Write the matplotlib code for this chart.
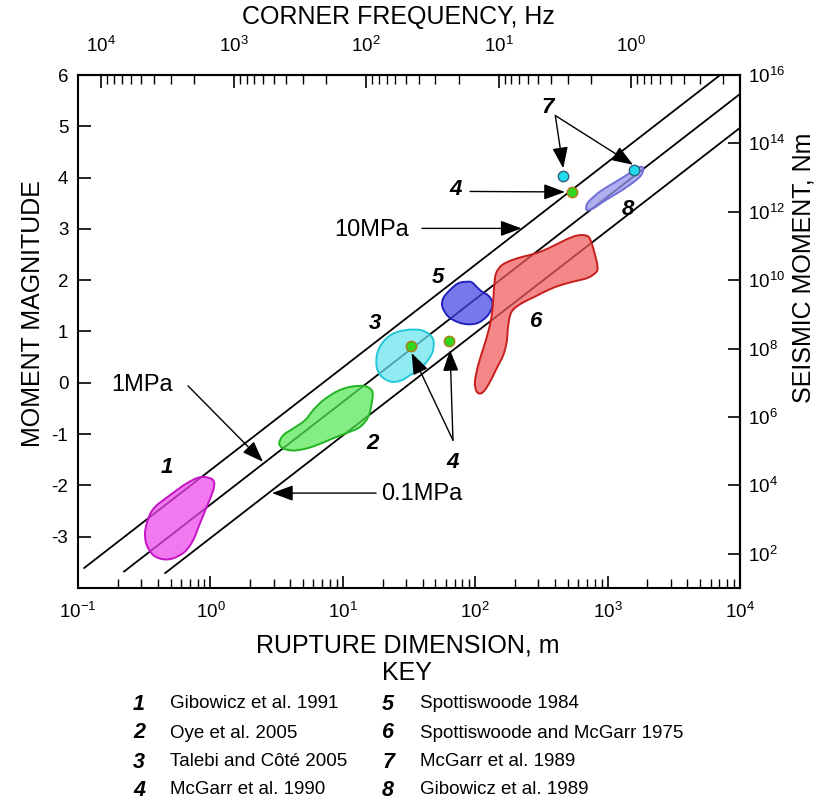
import numpy as np
import matplotlib
matplotlib.use('Agg')
import matplotlib.pyplot as plt
from matplotlib.path import Path
from matplotlib.patches import PathPatch
from matplotlib.ticker import LogLocator, NullFormatter, FuncFormatter, FixedLocator
from matplotlib.colors import to_rgba

plt.rcParams['font.family'] = ['Liberation Sans', 'DejaVu Sans']
plt.rcParams['mathtext.fontset'] = 'custom'
plt.rcParams['mathtext.rm'] = 'Liberation Sans'
plt.rcParams['mathtext.it'] = 'Liberation Sans:italic'
plt.rcParams['mathtext.bf'] = 'Liberation Sans:bold'
plt.rcParams['axes.unicode_minus'] = False

# ---------------- data ----------------
# constant stress-drop lines (end points)
line_labels = ['10MPa', '1MPa', '0.1MPa']
line_r_start = [0.11, 0.22, 0.45]
line_mw_start = [-3.62, -3.69, -3.72]
line_r_end = [7080.0, 10000.0, 10000.0]
line_mw_end = [6.0, 5.63, 4.97]

# source regions: outline vertices (log10 rupture dimension, moment magnitude)
r1_logr = [-0.003, -0.079, -0.179, -0.305, -0.418, -0.469, -0.494, -0.481, -0.431,
           -0.356, -0.280, -0.192, -0.129, -0.079, -0.028, 0.022, 0.027]
r1_mw = [-1.86, -1.84, -1.96, -2.19, -2.42, -2.64, -2.93, -3.16, -3.36,
         -3.44, -3.42, -3.29, -3.06, -2.74, -2.42, -2.09, -1.93]

r2_logr = [1.205, 1.155, 1.054, 0.954, 0.853, 0.777, 0.715, 0.626, 0.551, 0.520,
           0.551, 0.626, 0.727, 0.828, 0.928, 1.029, 1.130, 1.193, 1.218, 1.226]
r2_mw = [-0.11, -0.06, -0.08, -0.17, -0.34, -0.53, -0.73, -0.89, -1.02, -1.18,
         -1.28, -1.32, -1.28, -1.19, -1.08, -0.98, -0.86, -0.66, -0.40, -0.20]

r3_logr = [1.483, 1.381, 1.306, 1.261, 1.256, 1.294, 1.369, 1.445, 1.508, 1.570,
           1.634, 1.679, 1.684, 1.646, 1.583]
r3_mw = [1.03, 0.96, 0.80, 0.58, 0.31, 0.12, 0.02, 0.05, 0.15, 0.25,
         0.41, 0.61, 0.83, 0.96, 1.03]

r5_logr = [1.936, 1.872, 1.810, 1.759, 1.752, 1.797, 1.872, 1.948, 2.023, 2.087,
           2.125, 2.129, 2.099, 2.049, 2.011, 1.974]
r5_mw = [1.97, 1.94, 1.81, 1.65, 1.48, 1.29, 1.18, 1.14, 1.17, 1.29,
         1.45, 1.58, 1.70, 1.78, 1.87, 1.96]

r6_logr = [2.804, 2.741, 2.653, 2.552, 2.452, 2.363, 2.276, 2.200, 2.157, 2.144,
           2.137, 2.125, 2.099, 2.061, 2.023, 1.998, 2.011, 2.049, 2.099, 2.162,
           2.212, 2.238, 2.250, 2.276, 2.351, 2.452, 2.552, 2.653, 2.754, 2.854,
           2.918, 2.922, 2.905, 2.880, 2.854]
r6_mw = [2.88, 2.85, 2.75, 2.62, 2.52, 2.46, 2.39, 2.29, 2.13, 1.90,
         1.65, 1.32, 1.00, 0.67, 0.35, 0.02, -0.17, -0.20, -0.04, 0.28,
         0.54, 0.80, 1.13, 1.39, 1.55, 1.68, 1.81, 1.91, 1.98, 2.05,
         2.17, 2.30, 2.49, 2.72, 2.85]

r8_logr = [2.867, 2.943, 3.043, 3.144, 3.220, 3.258, 3.270, 3.245, 3.169, 3.069,
           2.967, 2.892, 2.842, 2.842]
r8_mw = [3.56, 3.73, 3.89, 4.05, 4.18, 4.21, 4.15, 4.02, 3.86, 3.69,
         3.53, 3.40, 3.37, 3.47]

# individual events
mcgarr1990_r = [32.7, 63.4, 541.0]
mcgarr1990_mw = [0.72, 0.81, 3.71]
mcgarr1989_r = [463.0, 1592.0]
mcgarr1989_mw = [4.03, 4.15]

# axes
x_limits = [0.1, 1e4]
mw_limits = [-4, 6]
mw_ticks = [-3, -2, -1, 0, 1, 2, 3, 4, 5, 6]
corner_freq_ticks = [1e4, 1e3, 1e2, 1e1, 1e0]
moment_tick_exponents = [2, 4, 6, 8, 10, 12, 14, 16]
corner_freq_const = 1500.0   # f * r

key_numbers = ['1', '2', '3', '4', '5', '6', '7', '8']
key_texts = ['Gibowicz et al. 1991', 'Oye et al. 2005', 'Talebi and Côté 2005',
             'McGarr et al. 1990', 'Spottiswoode 1984',
             'Spottiswoode and McGarr 1975', 'McGarr et al. 1989',
             'Gibowicz et al. 1989']

# ---------------- figure ----------------
W, H = 817, 802
fig = plt.figure(figsize=(W / 100, H / 100), dpi=100)
ax = fig.add_axes([78 / W, 1 - 588 / H, (740 - 78) / W, (588 - 75) / H])


def fx(x):
    return x / W


def fy(y):
    return 1 - y / H


def pow_label(v, p):
    e = int(round(np.log10(v)))
    return r'$\mathregular{10^{%d}}$' % e


ax.set_xscale('log')
ax.set_xlim(*x_limits)
ax.set_ylim(*mw_limits)
for s in ax.spines.values():
    s.set_linewidth(1.5)

ax.xaxis.set_major_locator(LogLocator(base=10, numticks=20))
ax.xaxis.set_major_formatter(FuncFormatter(pow_label))
ax.xaxis.set_minor_locator(LogLocator(base=10, subs=np.arange(2, 10), numticks=20))
ax.xaxis.set_minor_formatter(NullFormatter())
ax.set_yticks(mw_ticks)
ax.tick_params(which='major', direction='in', length=9, width=1.2, labelsize=13.5)
ax.tick_params(which='minor', direction='in', length=6.5, width=1.0)
ax.tick_params(axis='x', which='major', pad=10)
ax.tick_params(axis='y', which='major', pad=7)


def r_to_f(r):
    r = np.asarray(r, dtype=float)
    with np.errstate(divide='ignore', invalid='ignore'):
        return corner_freq_const / r


top = ax.secondary_xaxis('top', functions=(r_to_f, r_to_f))
top.xaxis.set_major_locator(FixedLocator(corner_freq_ticks))
top.xaxis.set_major_formatter(FuncFormatter(pow_label))
top.xaxis.set_minor_locator(LogLocator(base=10, subs=np.arange(2, 10), numticks=20))
top.xaxis.set_minor_formatter(NullFormatter())
top.tick_params(which='major', direction='in', length=9, width=1.2, labelsize=13.5, pad=14)
top.tick_params(which='minor', direction='in', length=6.5, width=1.0)
top.spines['top'].set_linewidth(1.5)


def mw_to_logm(m):
    return 1.5 * np.asarray(m, dtype=float) + 7.0


def logm_to_mw(l):
    return (np.asarray(l, dtype=float) - 7.0) / 1.5


right = ax.secondary_yaxis('right', functions=(mw_to_logm, logm_to_mw))
right.yaxis.set_major_locator(FixedLocator(moment_tick_exponents))
right.yaxis.set_major_formatter(FuncFormatter(lambda v, p: r'$\mathregular{10^{%d}}$' % int(round(v))))
right.tick_params(which='major', direction='in', length=9, width=1.2, labelsize=13.5, pad=6)
right.spines['right'].set_linewidth(1.5)

# stress-drop lines
for i in range(len(line_labels)):
    ax.plot([line_r_start[i], line_r_end[i]], [line_mw_start[i], line_mw_end[i]],
            color='black', lw=1.3, zorder=2, solid_capstyle='butt')


def smooth_region(logr, mw, face, edge, alpha=0.72):
    P = np.column_stack([logr, mw]).astype(float)
    n = len(P)
    verts = [P[0]]
    codes = [Path.MOVETO]
    for i in range(n):
        p0, p1, p2, p3 = P[i - 1], P[i], P[(i + 1) % n], P[(i + 2) % n]
        c1 = p1 + (p2 - p0) / 6.0
        c2 = p2 - (p3 - p1) / 6.0
        verts += [c1, c2, p2]
        codes += [Path.CURVE4] * 3
    verts.append(P[0])
    codes.append(Path.CLOSEPOLY)
    V = np.array(verts)
    V[:, 0] = 10 ** V[:, 0]
    patch = PathPatch(Path(V, codes), facecolor=to_rgba(face, alpha), edgecolor=edge,
                      lw=1.4, zorder=3)
    ax.add_patch(patch)


smooth_region(r1_logr, r1_mw, '#ee44ee', '#c414c4')
smooth_region(r2_logr, r2_mw, '#55e655', '#22b422')
smooth_region(r3_logr, r3_mw, '#66e4ee', '#22c8d8')
smooth_region(r5_logr, r5_mw, '#4444e6', '#2222bb')
smooth_region(r6_logr, r6_mw, '#f05a5a', '#c81e1e')
smooth_region(r8_logr, r8_mw, '#9494ec', '#7070d8', alpha=0.75)

# individual events
ax.plot(mcgarr1990_r, mcgarr1990_mw, 'o', ms=7.5, mfc='#33d61e', mec='#b07818', mew=1.0, zorder=5)
ax.plot(mcgarr1989_r, mcgarr1989_mw, 'o', ms=7.5, mfc='#22dcee', mec='#306080', mew=1.0, zorder=5)

# annotations
arrow = dict(arrowstyle='-|>,head_length=0.65,head_width=0.24', color='black', lw=1.0,
             shrinkA=0, shrinkB=0, mutation_scale=20)


def L(lr):
    return 10 ** lr


def ann(start, tip):
    ax.annotate('', xy=(L(tip[0]), tip[1]), xytext=(L(start[0]), start[1]),
                arrowprops=arrow, zorder=6)


num_style = dict(fontsize=16, fontweight='bold', fontstyle='italic', ha='center',
                 va='center', zorder=7)
lab_style = dict(fontsize=17, ha='center', va='center', zorder=7)

ax.text(L(2.550), 5.36, '7', **num_style)
ann((2.605, 5.21), (2.665, 4.18))
ann((2.605, 5.21), (3.192, 4.25))

ax.text(L(1.855), 3.76, '4', **num_style)
ann((1.961, 3.73), (2.678, 3.72))

ax.text(L(1.221), 2.98, '10MPa', **lab_style)
ann((1.598, 3.01), (2.351, 3.01))

ax.text(L(3.154), 3.37, '8', **num_style)
ax.text(L(1.719), 2.06, '5', **num_style)
ax.text(L(2.459), 1.20, '6', **num_style)
ax.text(L(1.243), 1.15, '3', **num_style)

ax.text(L(-0.517), -0.04, '1MPa', **lab_style)
ann((-0.169, -0.06), (0.397, -1.54))

ax.text(L(1.221), -1.19, '2', **num_style)
ax.text(L(-0.328), -1.66, '1', **num_style)

ax.text(L(1.598), -2.17, '0.1MPa', **lab_style)
ann((1.251, -2.15), (0.465, -2.15))

ax.text(L(1.832), -1.56, '4', **num_style)
ann((1.832, -1.12), (1.520, 0.58))
ann((1.832, -1.12), (1.810, 0.64))

# axis titles
fig.text(fx(398), fy(17), 'CORNER FREQUENCY, Hz', fontsize=18, ha='center', va='center')
fig.text(fx(408), fy(645), 'RUPTURE DIMENSION, m', fontsize=18, ha='center', va='center')
fig.text(fx(33), fy(314), 'MOMENT MAGNITUDE', fontsize=18, ha='center', va='center', rotation=90)
fig.text(fx(803), fy(268), 'SEISMIC MOMENT, Nm', fontsize=18, ha='center', va='center', rotation=90)

# key
fig.text(fx(407), fy(673), 'KEY', fontsize=18, ha='center', va='center')
row_y = [704, 733, 762, 790]
for i in range(8):
    col = i // 4
    row = i % 4
    nx = 139 if col == 0 else 388
    tx = 170 if col == 0 else 420
    fig.text(fx(nx), fy(row_y[row]), key_numbers[i], fontsize=15.5, fontweight='bold',
             fontstyle='italic', ha='center', va='center')
    fig.text(fx(tx), fy(row_y[row]), key_texts[i], fontsize=13.5, ha='left', va='center')

fig.savefig('out.png', dpi=100)
